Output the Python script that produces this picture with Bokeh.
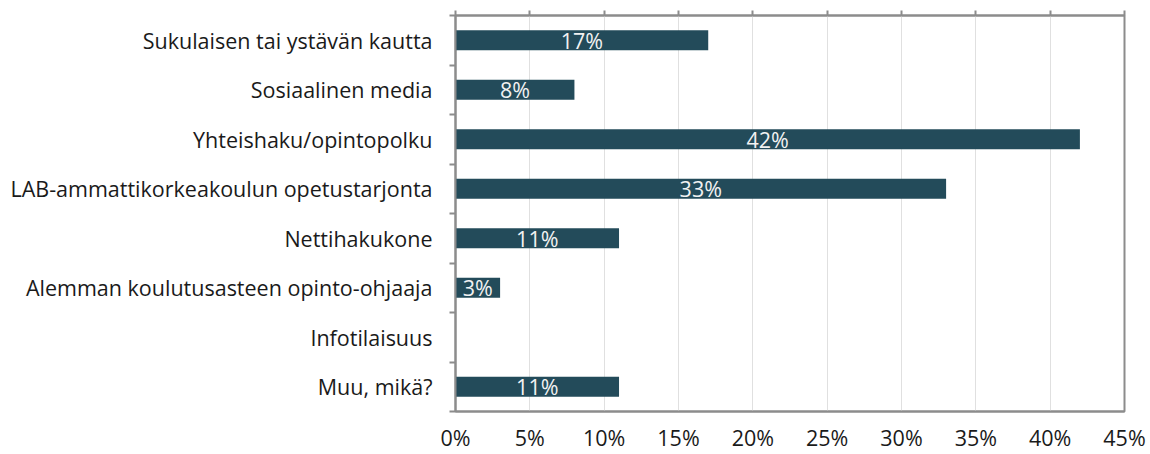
from bokeh.plotting import figure
from bokeh.models import ColumnDataSource, Range1d, FixedTicker, LinearAxis, NumeralTickFormatter
from bokeh.core.properties import value
from bokeh.embed import file_html
from bokeh.resources import INLINE

categories = [
    "Sukulaisen tai ystävän kautta",
    "Sosiaalinen media",
    "Yhteishaku/opintopolku",
    "LAB-ammattikorkeakoulun opetustarjonta",
    "Nettihakukone",
    "Alemman koulutusasteen opinto-ohjaaja",
    "Infotilaisuus",
    "Muu, mikä?",
]
values = [0.17, 0.08, 0.42, 0.33, 0.11, 0.03, 0.0, 0.11]
x_ticks = [0, 0.05, 0.10, 0.15, 0.20, 0.25, 0.30, 0.35, 0.40, 0.45]

FONT = "Open Sans"
BAR = "#234b5a"
GRAY = "#8c8c8c"
FS = "21.5px"

n = len(categories)
ypos = [i + 0.5 for i in range(n)]
src = ColumnDataSource(dict(y=ypos, v=values, cat=categories))
lab_idx = [i for i, v in enumerate(values) if v > 0]
lab_src = ColumnDataSource(dict(
    y=[ypos[i] for i in lab_idx],
    x=[values[i] / 2 for i in lab_idx],
    t=["%d%%" % round(values[i] * 100) for i in lab_idx],
))

p = figure(width=1150, height=454, output_backend="svg", toolbar_location=None,
           x_range=Range1d(0, 0.45), y_range=Range1d(n, 0),
           min_border_left=455, min_border_right=26, min_border_top=15, min_border_bottom=0,
           x_axis_location="below")
p.hbar(y="y", right="v", left=0, height=0.4, source=src, color=BAR, line_color=None)
p.text(x="x", y="y", text="t", source=lab_src, text_align="center", text_baseline="middle",
       text_color="#f2f2f2", text_font=value(FONT), text_font_size=FS)

p.outline_line_color = GRAY
p.outline_line_width = 2
p.xgrid.ticker = FixedTicker(ticks=x_ticks)
p.xgrid.grid_line_color = "#e0e0e0"
p.ygrid.visible = False

xa = p.xaxis[0]
xa.ticker = FixedTicker(ticks=x_ticks)
xa.formatter = NumeralTickFormatter(format="0%")
xa.axis_line_color = GRAY
xa.axis_line_width = 2
xa.major_tick_line_color = None
xa.minor_tick_line_color = None
xa.major_label_text_font = FONT
xa.major_label_text_font_size = FS
xa.major_label_text_color = "#1a1a1a"
xa.major_label_standoff = 5

top = LinearAxis(ticker=FixedTicker(ticks=x_ticks))
top.axis_line_color = GRAY
top.axis_line_width = 2
top.major_tick_line_color = GRAY
top.major_tick_line_width = 2
top.major_tick_in = 0
top.major_tick_out = 5
top.major_label_overrides = {t: "" for t in x_ticks}
top.major_label_standoff = 0
p.add_layout(top, "above")

ya = p.yaxis[0]
ya.ticker = FixedTicker(ticks=ypos, minor_ticks=list(range(n + 1)))
ya.major_label_overrides = {y: c for y, c in zip(ypos, categories)}
ya.axis_line_color = GRAY
ya.axis_line_width = 2
ya.major_tick_line_color = None
ya.minor_tick_line_color = GRAY
ya.minor_tick_line_width = 2
ya.minor_tick_in = 0
ya.minor_tick_out = 6
ya.major_label_text_font = FONT
ya.major_label_text_font_size = FS
ya.major_label_text_color = "#1a1a1a"
ya.major_label_standoff = 17

open("out.html", "w").write(file_html(p, INLINE))
